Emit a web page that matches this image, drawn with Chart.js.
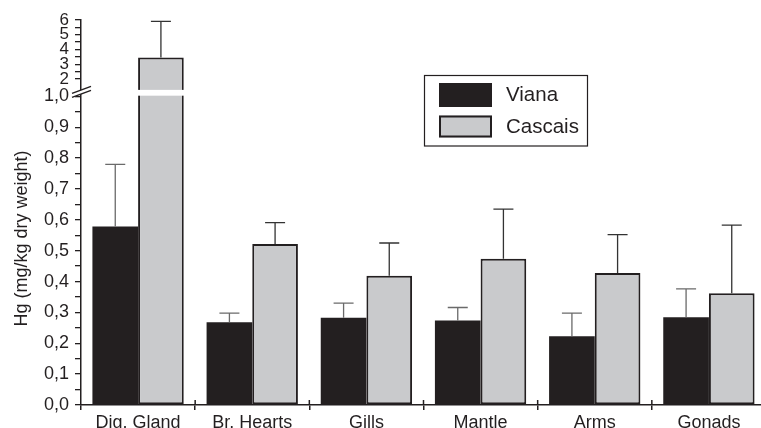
<!DOCTYPE html>
<html><head><meta charset="utf-8">
<script src="https://cdn.jsdelivr.net/npm/chart.js@4/dist/chart.umd.min.js"></script>
<style>
html,body{margin:0;padding:0;background:#fff;overflow:hidden;width:761px;height:428px}
#wrap{position:relative;width:766px;height:428px}
</style>
</head><body><div id="wrap"><canvas id="c"></canvas></div>
<script>
// ---------- data ----------
const categories = ['Dig. Gland', 'Br. Hearts', 'Gills', 'Mantle', 'Arms', 'Gonads'];
const seriesNames = ['Viana', 'Cascais'];
const vianaMeans   = [0.578, 0.268, 0.283, 0.274, 0.223, 0.284];
const vianaSD      = [0.202, 0.030, 0.047, 0.042, 0.075, 0.092];
const cascaisMeans = [3.45, 0.522, 0.419, 0.474, 0.428, 0.362];
const cascaisSD    = [2.45, 0.069, 0.106, 0.161, 0.124, 0.221];
const yTickValues = [0, 0.05, 0.1, 0.15, 0.2, 0.25, 0.3, 0.35, 0.4, 0.45, 0.5, 0.55, 0.6, 0.65, 0.7, 0.75, 0.8, 0.85, 0.9, 0.95, 1.0,
                     2, 2.5, 3, 3.5, 4, 4.5, 5, 5.5, 6];
const yTickLabels = ['0,0', '', '0,1', '', '0,2', '', '0,3', '', '0,4', '', '0,5', '', '0,6', '', '0,7', '', '0,8', '', '0,9', '', '1,0',
                     '2', '', '3', '', '4', '', '5', '', '6'];

// ---------- broken (two-segment) linear scale ----------
const BREAK_LOW = 1, BREAK_HIGH = 2, Y_TOP = 6;
const F_LOW = 0.8016, F_HIGH = 0.8468;
class BrokenScale extends Chart.LinearScale {
  getPixelForValue(v) {
    if (v === null || v === undefined || isNaN(v)) return NaN;
    let f;
    if (v <= BREAK_LOW) f = v / BREAK_LOW * F_LOW;
    else if (v <= BREAK_HIGH) f = F_LOW + (v - BREAK_LOW) / (BREAK_HIGH - BREAK_LOW) * (F_HIGH - F_LOW);
    else f = F_HIGH + (v - BREAK_HIGH) / (Y_TOP - BREAK_HIGH) * (1 - F_HIGH);
    return this.getPixelForDecimal(f);
  }
  getValueForPixel(p) {
    const f = this.getDecimalForPixel(p);
    if (f <= F_LOW) return f / F_LOW * BREAK_LOW;
    if (f <= F_HIGH) return BREAK_LOW + (f - F_LOW) / (F_HIGH - F_LOW) * (BREAK_HIGH - BREAK_LOW);
    return BREAK_HIGH + (f - F_HIGH) / (1 - F_HIGH) * (Y_TOP - BREAK_HIGH);
  }
  drawTitle() {
    // centre the axis title on the lower segment region as in the original figure
    const t = this.top;
    this.top = t + 52;
    super.drawTitle();
    this.top = t;
  }
}
BrokenScale.id = 'broken';
BrokenScale.defaults = Chart.LinearScale.defaults;
Chart.register(BrokenScale);

const FONT = "'Liberation Sans', Arial, Helvetica, sans-serif";
const INK = '#231f20';
const GREY = '#c9cacc';
const sds = [vianaSD, cascaisSD];
const errColors = ['#6a6a6a', '#333333'];

const decorPlugin = {
  id: 'decor',
  afterDatasetsDraw(chart) {
    const ctx = chart.ctx, y = chart.scales.y, x = chart.scales.x;
    ctx.save();
    const p1 = y.getPixelForValue(BREAK_LOW);
    // break band through bars exceeding the break
    chart.data.datasets.forEach((ds, i) => {
      const meta = chart.getDatasetMeta(i);
      meta.data.forEach((bar, j) => {
        if (ds.data[j] > BREAK_HIGH) {
          ctx.fillStyle = '#fff';
          ctx.fillRect(bar.x - bar.width / 2 - 1, p1 - 6.5, bar.width + 2, 5.8);
        }
      });
    });
    // error bars
    chart.data.datasets.forEach((ds, i) => {
      const meta = chart.getDatasetMeta(i);
      meta.data.forEach((bar, j) => {
        const top = y.getPixelForValue(ds.data[j] + sds[i][j]);
        ctx.strokeStyle = errColors[i];
        ctx.lineWidth = 1.3;
        ctx.beginPath();
        ctx.moveTo(bar.x, bar.y);
        ctx.lineTo(bar.x, top);
        ctx.moveTo(bar.x - 10, top);
        ctx.lineTo(bar.x + 10, top);
        ctx.stroke();
      });
    });
    // x-axis tick marks crossing above the axis
    const ab = chart.chartArea.bottom;
    ctx.strokeStyle = INK;
    ctx.lineWidth = 1.5;
    for (let i = 1; i < categories.length; i++) {
      const bx = (x.getPixelForValue(i - 1) + x.getPixelForValue(i)) / 2;
      ctx.beginPath();
      ctx.moveTo(bx, ab);
      ctx.lineTo(bx, ab - 5);
      ctx.stroke();
    }
    // axis break symbol
    const L = chart.chartArea.left;
    ctx.fillStyle = '#fff';
    ctx.beginPath();
    ctx.moveTo(L - 9, p1 - 3); ctx.lineTo(L + 10, p1 - 10);
    ctx.lineTo(L + 10, p1 - 6); ctx.lineTo(L - 9, p1 + 1);
    ctx.closePath(); ctx.fill();
    ctx.strokeStyle = INK; ctx.lineWidth = 1.5;
    ctx.beginPath();
    ctx.moveTo(L - 9, p1 - 3); ctx.lineTo(L + 10, p1 - 10);
    ctx.moveTo(L - 9, p1 + 1); ctx.lineTo(L + 10, p1 - 6);
    ctx.stroke();
    ctx.restore();
  },
  afterDraw(chart) {
    const ctx = chart.ctx;
    ctx.save();
    // legend box
    ctx.strokeStyle = INK; ctx.lineWidth = 1.2;
    ctx.strokeRect(424.5, 75.5, 163, 70.5);
    const ds = chart.data.datasets;
    ctx.fillStyle = ds[0].backgroundColor;
    ctx.fillRect(439, 83, 53, 24);
    ctx.fillStyle = ds[1].backgroundColor;
    ctx.fillRect(439, 115.5, 53, 22);
    ctx.lineWidth = 2; ctx.strokeStyle = INK;
    ctx.strokeRect(440, 116.5, 51, 20);
    ctx.fillStyle = INK;
    ctx.font = '20.5px ' + FONT;
    ctx.textBaseline = 'middle';
    ctx.textAlign = 'left';
    ctx.fillText(ds[0].label, 506, 95.5);
    ctx.fillText(ds[1].label, 506, 127);
    ctx.restore();
  }
};

new Chart(document.getElementById('c'), {
  type: 'bar',
  data: {
    labels: categories,
    datasets: [
      { label: seriesNames[0], data: vianaMeans, backgroundColor: INK, borderColor: INK, borderWidth: 0,
        categoryPercentage: 0.8, barPercentage: 1.0 },
      { label: seriesNames[1], data: cascaisMeans, backgroundColor: GREY, borderColor: INK, borderWidth: 2,
        borderSkipped: false, categoryPercentage: 0.8, barPercentage: 1.0 }
    ]
  },
  options: {
    responsive: true,
    maintainAspectRatio: false,
    animation: false,
    events: [],
    layout: { padding: { top: 20, left: 0, right: 0, bottom: 0 } },
    plugins: { legend: { display: false }, tooltip: { enabled: false } },
    scales: {
      x: {
        grid: { display: true, drawOnChartArea: false, drawTicks: true, tickLength: 5, color: INK, lineWidth: 1.5, offset: true },
        border: { display: true, color: INK, width: 1.5 },
        ticks: { color: INK, font: { family: FONT, size: 18 }, padding: 2, maxRotation: 0, autoSkip: false },
        afterFit: s => { s.height = 23; }
      },
      y: {
        type: 'broken', min: 0, max: Y_TOP,
        afterBuildTicks: s => { s.ticks = yTickValues.map(v => ({ value: v })); },
        ticks: {
          autoSkip: false, padding: 6, color: INK,
          font: c => ({ family: FONT, size: (c.tick && c.tick.value > 1.5) ? 17 : 18 }),
          callback: (v, i) => yTickLabels[i]
        },
        grid: { drawOnChartArea: false, drawTicks: true, tickLength: 6, color: INK, lineWidth: 1.3 },
        border: { display: true, color: INK, width: 1.5 },
        title: { display: true, text: 'Hg (mg/kg dry weight)', color: INK, font: { family: FONT, size: 18 }, padding: { top: 11, bottom: 4 } },
        afterFit: s => { s.width = 81; }
      }
    }
  },
  plugins: [decorPlugin]
});
</script>
</body></html>
